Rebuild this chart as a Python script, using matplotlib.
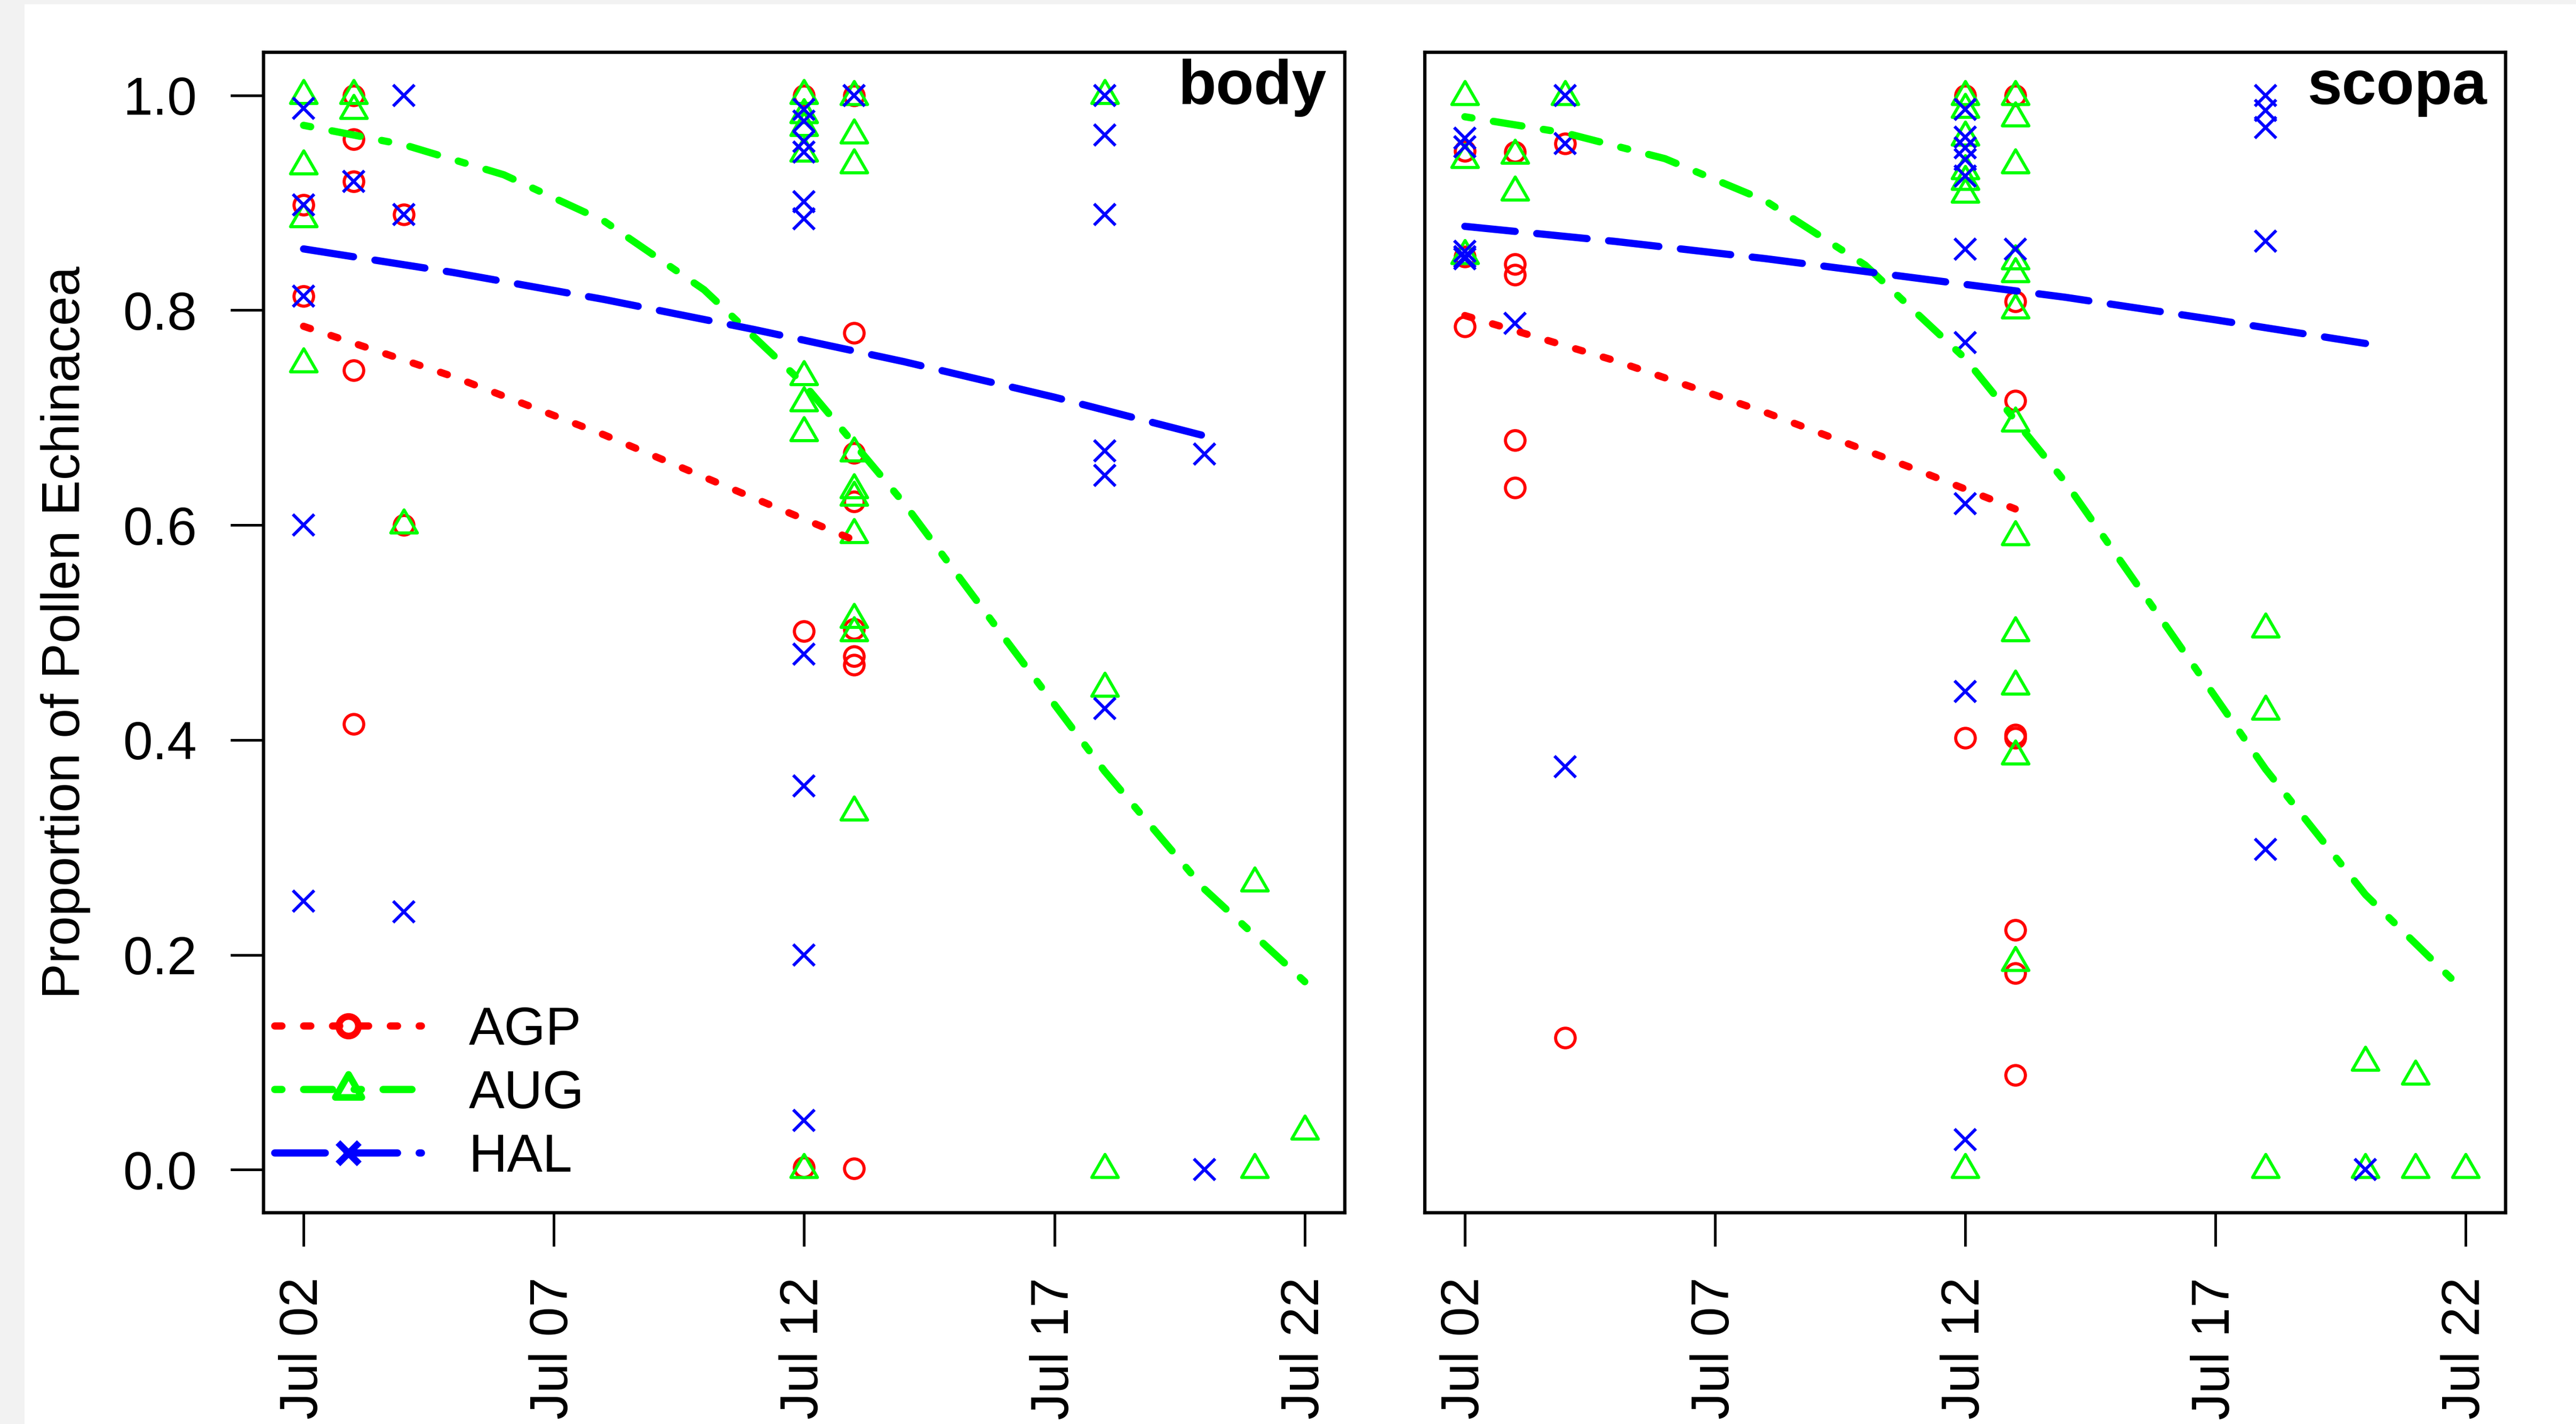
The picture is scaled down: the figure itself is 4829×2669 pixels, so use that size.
import matplotlib
matplotlib.use("Agg")
import matplotlib.pyplot as plt
from matplotlib.lines import Line2D
from matplotlib.path import Path
from matplotlib.patches import Rectangle

plt.rcParams["font.family"] = ["Liberation Sans", "DejaVu Sans"]

W, H = 4829, 2669

x_ticks = [2, 7, 12, 17, 22]
x_tick_labels = ["Jul 02", "Jul 07", "Jul 12", "Jul 17", "Jul 22"]
y_ticks = [0.0, 0.2, 0.4, 0.6, 0.8, 1.0]
y_tick_labels = ["0.0", "0.2", "0.4", "0.6", "0.8", "1.0"]
species = ["AGP", "AUG", "HAL"]
panels = ["body", "scopa"]

# observed proportions, (day of July, proportion)
body_agp = [(2, 0.898), (2, 0.813), (3, 1.0), (3, 0.959), (3, 0.920), (3, 0.744),
            (3, 0.415), (4, 0.889), (4, 0.600), (12, 1.0), (12, 0.501), (12, 0.002),
            (13, 1.0), (13, 0.779), (13, 0.667), (13, 0.622), (13, 0.503), (13, 0.478),
            (13, 0.470), (13, 0.001)]
body_aug = [(2, 1.0), (2, 0.934), (2, 0.885), (2, 0.750), (3, 1.0), (3, 0.986),
            (4, 0.600), (12, 1.0), (12, 0.982), (12, 0.970), (12, 0.946), (12, 0.738),
            (12, 0.714), (12, 0.686), (12, 0.0), (13, 0.999), (13, 0.963), (13, 0.935),
            (13, 0.667), (13, 0.633), (13, 0.626), (13, 0.591), (13, 0.512), (13, 0.500),
            (13, 0.333), (18, 1.0), (18, 0.448), (18, 0.0), (21, 0.267), (21, 0.0),
            (22, 0.036)]
body_hal = [(2, 0.988), (2, 0.898), (2, 0.813), (2, 0.600), (2, 0.250), (3, 0.920),
            (4, 1.0), (4, 0.889), (4, 0.240), (12, 0.987), (12, 0.976), (12, 0.957),
            (12, 0.947), (12, 0.901), (12, 0.885), (12, 0.480), (12, 0.357), (12, 0.200),
            (12, 0.046), (13, 1.0), (18, 1.0), (18, 0.963), (18, 0.889), (18, 0.669),
            (18, 0.646), (18, 0.429), (20, 0.666), (20, 0.0)]

scopa_agp = [(2, 0.948), (2, 0.850), (2, 0.785), (3, 0.947), (3, 0.843), (3, 0.833),
             (3, 0.679), (3, 0.635), (4, 0.955), (4, 0.123), (12, 1.0), (12, 0.402),
             (13, 1.0), (13, 0.808), (13, 0.716), (13, 0.405), (13, 0.402), (13, 0.223),
             (13, 0.183), (13, 0.088)]
scopa_aug = [(2, 0.999), (2, 0.940), (2, 0.851), (3, 0.944), (3, 0.910), (4, 0.999),
             (12, 0.999), (12, 0.987), (12, 0.961), (12, 0.930), (12, 0.920), (12, 0.908),
             (12, 0.0), (13, 0.999), (13, 0.979), (13, 0.935), (13, 0.846), (13, 0.834),
             (13, 0.800), (13, 0.695), (13, 0.589), (13, 0.500), (13, 0.450), (13, 0.385),
             (13, 0.193), (18, 0.503), (18, 0.427), (18, 0.0), (20, 0.100), (20, 0.0),
             (21, 0.087), (21, 0.0), (22, 0.0)]
scopa_hal = [(2, 0.960), (2, 0.952), (2, 0.855), (2, 0.850), (2, 0.848), (3, 0.788),
             (4, 1.0), (4, 0.955), (4, 0.375), (12, 0.987), (12, 0.961), (12, 0.951),
             (12, 0.940), (12, 0.925), (12, 0.857), (12, 0.770), (12, 0.620), (12, 0.445),
             (12, 0.028), (13, 0.857), (18, 1.0), (18, 0.986), (18, 0.970), (18, 0.864),
             (18, 0.298), (20, 0.0)]

# fitted curves
body_agp_fit_days = [2, 5, 8, 11, 13]
body_agp_fit = [0.785, 0.738, 0.684, 0.625, 0.586]
body_aug_fit_days = [2, 4, 6, 8, 10, 12, 14, 16, 18, 20, 22]
body_aug_fit = [0.972, 0.954, 0.926, 0.883, 0.819, 0.731, 0.620, 0.495, 0.371, 0.261, 0.175]
body_hal_fit_days = [2, 5, 8, 11, 14, 17, 20]
body_hal_fit = [0.857, 0.835, 0.810, 0.782, 0.752, 0.719, 0.683]

scopa_agp_fit_days = [2, 5, 8, 11, 13]
scopa_agp_fit = [0.795, 0.753, 0.705, 0.652, 0.615]
scopa_aug_fit_days = [2, 4, 6, 8, 10, 12, 14, 16, 18, 20, 22]
scopa_aug_fit = [0.980, 0.965, 0.941, 0.902, 0.842, 0.755, 0.640, 0.507, 0.373, 0.256, 0.165]
scopa_hal_fit_days = [2, 5, 8, 11, 14, 17, 20]
scopa_hal_fit = [0.878, 0.864, 0.848, 0.830, 0.812, 0.791, 0.769]

# R style triangle (pch 2): centre sits a third of the way up
tri_marker = Path([(0, 1), (-0.866, -0.5), (0.866, -0.5), (0, 1)],
                  [Path.MOVETO, Path.LINETO, Path.LINETO, Path.CLOSEPOLY])

styles = {
    "AGP": dict(color="#ff0000", marker="o", ms=8.8, ls=(0, (1, 3))),
    "AUG": dict(color="#00ff00", marker=tri_marker, ms=13.8, ls=(0, (1, 3, 4, 3))),
    "HAL": dict(color="#0000ff", marker="x", ms=9.8, ls=(0, (7, 3))),
}
LINE_W = 3.25

data = {
    "body": {"AGP": (body_agp, body_agp_fit_days, body_agp_fit),
             "AUG": (body_aug, body_aug_fit_days, body_aug_fit),
             "HAL": (body_hal, body_hal_fit_days, body_hal_fit)},
    "scopa": {"AGP": (scopa_agp, scopa_agp_fit_days, scopa_agp_fit),
              "AUG": (scopa_aug, scopa_aug_fit_days, scopa_aug_fit),
              "HAL": (scopa_hal, scopa_hal_fit_days, scopa_hal_fit)},
}

fig = plt.figure(figsize=(W / 300, H / 300), dpi=300, facecolor="#f2f2f2")
fig.add_artist(Rectangle((46 / W, 0), 1, 1 - 8 / H, transform=fig.transFigure,
                         facecolor="white", edgecolor="none", zorder=-10))

bottom = 1 - 2273 / H
height = (2273 - 98) / H
ax_body = fig.add_axes([494 / W, bottom, (2521 - 494) / W, height])
ax_scopa = fig.add_axes([2671 / W, bottom, (4697 - 2671) / W, height])

for ax, panel in zip([ax_body, ax_scopa], panels):
    for sp in species:
        pts, fit_days, fit_vals = data[panel][sp]
        st = styles[sp]
        days = [p[0] for p in pts]
        vals = [p[1] for p in pts]
        ax.plot(days, vals, linestyle="none", marker=st["marker"], ms=st["ms"],
                mfc="none", mec=st["color"], mew=1.4, zorder=2)
    for sp in species:
        pts, fit_days, fit_vals = data[panel][sp]
        st = styles[sp]
        ax.plot(fit_days, fit_vals, color=st["color"], lw=LINE_W, ls=st["ls"],
                dash_capstyle="round", solid_capstyle="round", zorder=3)

    ax.set_xlim(1.2, 22.8)
    ax.set_ylim(-0.04, 1.04)
    ax.set_xticks(x_ticks)
    ax.set_xticklabels(x_tick_labels, rotation=90)
    ax.set_yticks(y_ticks)
    ax.set_yticklabels(y_tick_labels)
    ax.tick_params(axis="both", direction="out", length=15, width=1.2,
                   labelsize=24, color="black")
    ax.tick_params(axis="x", pad=14)
    ax.tick_params(axis="y", pad=15)
    for s in ax.spines.values():
        s.set_linewidth(1.5)
    ax.text(1 - 34.5 / 2027, 1 - 97 / 2175, panel, transform=ax.transAxes,
            ha="right", va="baseline", fontsize=28, fontweight="bold")

ax_scopa.tick_params(axis="y", left=False, labelleft=False)

fig.text(123 / W, bottom + height / 2, "Proportion of Pollen Echinacea",
         rotation=90, ha="center", va="center", fontsize=24)

handles = []
for sp in species:
    st = styles[sp]
    handles.append(Line2D([], [], color=st["color"], lw=LINE_W, ls=st["ls"],
                          dash_capstyle="round", solid_capstyle="round",
                          marker=st["marker"], ms=st["ms"], mfc="none",
                          mec=st["color"], mew=3.0))
ax_body.legend(handles, species, loc="lower left",
               bbox_to_anchor=((515 - 494) / 2027, 0.0257), frameon=False,
               fontsize=24, handlelength=2.75, handletextpad=0.89,
               labelspacing=0.25, borderpad=0, borderaxespad=0)

fig.savefig("out.png", dpi=300, facecolor=fig.get_facecolor())
